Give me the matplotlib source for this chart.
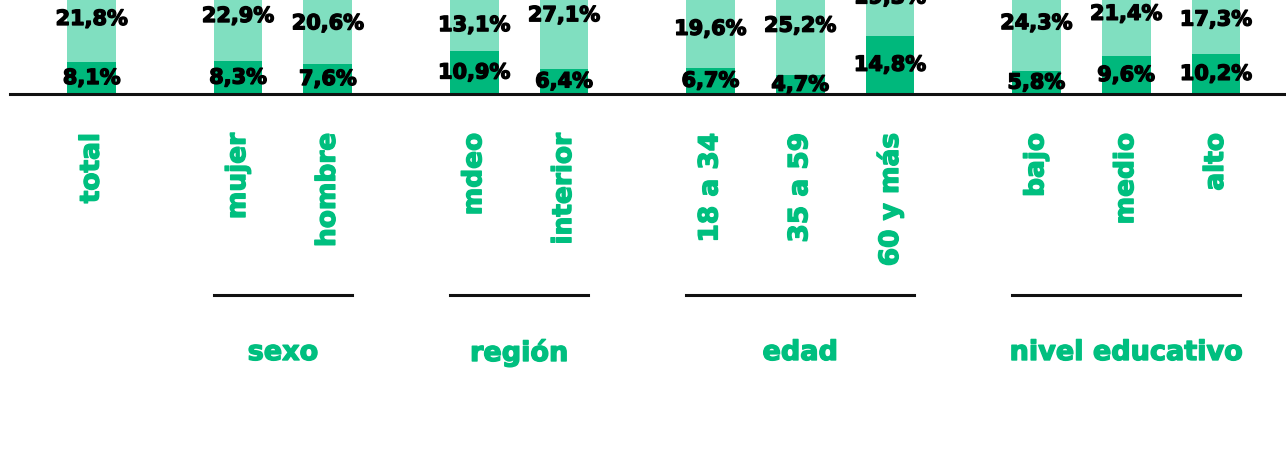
import matplotlib.pyplot as plt
import matplotlib.patheffects as pe
from matplotlib.transforms import blended_transform_factory

# data
categories = ["total", "mujer", "hombre", "mdeo", "interior",
              "18 a 34", "35 a 59", "60 y más", "bajo", "medio", "alto"]
group_of = [0, 1, 1, 2, 2, 3, 3, 3, 4, 4, 4]
group_names = ["", "sexo", "región", "edad", "nivel educativo"]
dark_values = [8.1, 8.3, 7.6, 10.9, 6.4, 6.7, 4.7, 14.8, 5.8, 9.6, 10.2]
light_values = [21.8, 22.9, 20.6, 13.1, 27.1, 19.6, 25.2, 19.3, 24.3, 21.4, 17.3]

dark_color = "#00b87c"
light_color = "#80dfc0"
text_green = "#00bf7f"
font = "DejaVu Sans"

# bar positions: one unit per bar, extra gap between groups
group_gap = 0.63
xpos = [i + group_gap * g for i, g in enumerate(group_of)]
bar_w = 0.543

fig = plt.figure(figsize=(12.86, 4.57), dpi=100)
# baseline at 94 px from top, axes top = figure top (chart is cropped there)
ax = fig.add_axes([10 / 1286, 1 - 94 / 457, 1 - 10 / 1286, 94 / 457])

ax.bar(xpos, dark_values, width=bar_w, color=dark_color, zorder=2)
ax.bar(xpos, light_values, width=bar_w, bottom=dark_values, color=light_color, zorder=2)

heavy_black = [pe.withStroke(linewidth=1.0, foreground="black")]
heavy_green = [pe.withStroke(linewidth=1.0, foreground=text_green)]

for x, d, l in zip(xpos, dark_values, light_values):
    ax.text(x, d / 2, f"{d:.1f}%".replace(".", ","), ha="center", va="center",
            fontsize=15, fontweight="bold", family=font, color="black",
            clip_on=False, zorder=3, path_effects=heavy_black)
    ax.text(x, d + l / 2, f"{l:.1f}%".replace(".", ","), ha="center", va="center",
            fontsize=15, fontweight="bold", family=font, color="black",
            clip_on=False, zorder=3, path_effects=heavy_black)

ax.set_xlim(-0.91, 13.3)
ax.set_ylim(0, 94 / 3.95)

for s in ["top", "right", "left"]:
    ax.spines[s].set_visible(False)
ax.spines["bottom"].set_linewidth(2.2)
ax.spines["bottom"].set_color("#111111")
ax.set_yticks([])

ax.set_xticks(xpos)
ax.set_xticklabels(categories, rotation=90, fontsize=19, fontweight="bold",
                   family=font, color=text_green)
for t in ax.get_xticklabels():
    t.set_path_effects(heavy_green)
ax.tick_params(axis="x", length=0, pad=28)

# group underlines and names
trans = blended_transform_factory(ax.transData, fig.transFigure)
for g in range(1, len(group_names)):
    xs = [x for x, gg in zip(xpos, group_of) if gg == g]
    x0 = min(xs) - bar_w / 2
    x1 = max(xs) + bar_w / 2
    ax.plot([x0, x1], [1 - 295 / 457] * 2, color="#111111", lw=2.2,
            transform=trans, clip_on=False)
    ax.text((x0 + x1) / 2, 1 - 353 / 457, group_names[g], ha="center", va="center",
            fontsize=19.5, fontweight="bold", family=font, color=text_green,
            transform=trans, path_effects=heavy_green)

fig.savefig("out.png", dpi=100)
